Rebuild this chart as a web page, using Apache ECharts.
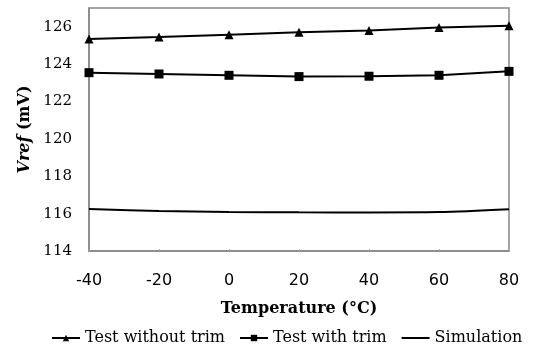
<!DOCTYPE html>
<html>
<head>
<meta charset="utf-8">
<script src="https://cdn.jsdelivr.net/npm/echarts@6/dist/echarts.min.js"></script>
<style>
  html, body { margin: 0; padding: 0; background: #fff; }
  #chart { width: 540px; height: 354px; }
</style>
</head>
<body>
<div id="chart"></div>
<script>
// temperature points (°C)
var temps = [-40, -20, 0, 20, 40, 60, 80];
// Vref readings (mV)
var noTrim = [125.34, 125.45, 125.57, 125.7, 125.8, 125.96, 126.05];
var withTrim = [123.54, 123.47, 123.4, 123.33, 123.35, 123.4, 123.61];
var simulation = [116.25, 116.14, 116.09, 116.07, 116.06, 116.08, 116.23];

var serif = "DejaVu Serif";

function pairs(vals) {
    return temps.map(function (t, i) { return [t, vals[i]]; });
}

var chart = echarts.init(document.getElementById('chart'));
chart.setOption({
    animation: false,
    grid: {
        left: 89, right: 31, top: 8, bottom: 103,
        show: true, borderColor: '#888', borderWidth: 1.5
    },
    xAxis: {
        type: 'value', min: -40, max: 80, interval: 20,
        name: 'Temperature (°C)', nameLocation: 'middle', nameGap: 50,
        nameTextStyle: { fontFamily: serif, fontWeight: 'bold', fontSize: 16, color: '#000' },
        axisLine: { show: true, onZero: false, lineStyle: { color: '#888', width: 1.5 } },
        axisTick: { show: true, inside: true, length: 2, lineStyle: { color: '#aaa' } },
        axisLabel: { fontFamily: 'DejaVu Sans', fontSize: 16, color: '#000', margin: 22 },
        splitLine: { show: false }
    },
    yAxis: {
        type: 'value', min: 114, max: 127, interval: 2,
        name: '{i|Vref} (mV)', nameLocation: 'middle', nameGap: 55, nameRotate: 90,
        nameTextStyle: {
            fontFamily: serif, fontWeight: 'bold', fontSize: 16, color: '#000',
            rich: { i: { fontStyle: 'italic', fontWeight: 'bold', fontFamily: serif, fontSize: 16, color: '#000' } }
        },
        axisLine: { show: true, onZero: false, lineStyle: { color: '#888', width: 1.5 } },
        axisTick: { show: false },
        axisLabel: { fontFamily: serif, fontSize: 15, color: '#000', margin: 17, showMaxLabel: false },
        splitLine: { show: false }
    },
    legend: {
        bottom: 3, left: 46, itemGap: 14, itemWidth: 28, itemHeight: 8,
        textStyle: { fontFamily: serif, fontSize: 16, color: '#000' },
        data: [
            'Test without trim',
            'Test with trim',
            { name: 'Simulation', itemStyle: { opacity: 0 } }
        ]
    },
    series: [
        {
            name: 'Test without trim', type: 'line', data: pairs(noTrim),
            symbol: 'triangle', symbolSize: 9,
            lineStyle: { color: '#000', width: 2 }, itemStyle: { color: '#000' }
        },
        {
            name: 'Test with trim', type: 'line', data: pairs(withTrim),
            symbol: 'rect', symbolSize: 9,
            lineStyle: { color: '#000', width: 2 }, itemStyle: { color: '#000' }
        },
        {
            name: 'Simulation', type: 'line', data: pairs(simulation),
            symbol: 'none', smooth: 0.3,
            lineStyle: { color: '#000', width: 2 }, itemStyle: { color: '#000' }
        }
    ]
});
</script>
</body>
</html>
